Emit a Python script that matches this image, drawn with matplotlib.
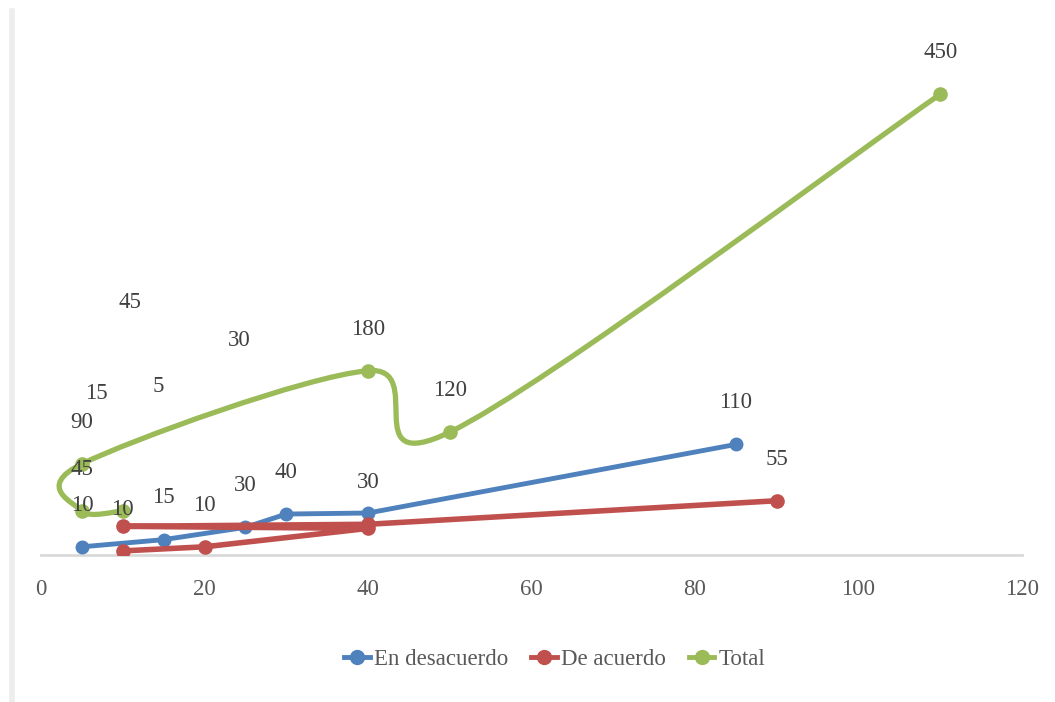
import numpy as np
import matplotlib
matplotlib.use('Agg')
import matplotlib.pyplot as plt
from matplotlib.path import Path
from matplotlib.patches import PathPatch
from matplotlib.lines import Line2D

plt.rcParams['font.family'] = ['Liberation Serif', 'DejaVu Serif']

# Datos (x, y de cada serie)
desacuerdo_x = [5, 15, 25, 30, 40, 85]
desacuerdo_y = [8, 15, 27, 40, 41, 108]
desacuerdo_etq = ['10', '15', '30', '40', '', '110']

acuerdo_x = [10, 20, 40, 10, 40, 90]
acuerdo_y = [4, 8, 26, 28, 30, 53]
acuerdo_etq = ['10', '10', '', '', '30', '55']

total_x = [10, 5, 5, 40, 50, 110]
total_y = [43, 43, 89, 180, 120, 450]
total_etq = ['', '45', '90', '180', '120', '450']

# etiquetas que quedaron sueltas en el grafico original
sueltas_txt = ['15', '5', '45', '30']
sueltas_x = [6.8, 14.3, 10.9, 24.3]
sueltas_y = [158, 165, 247, 209]

azul = '#4F81BD'
rojo = '#C0504D'
verde = '#9BBB59'
gris_txt = '#404040'


def curva_suave(ax, xs, ys):
    # curva tipo Excel (Catmull-Rom en pixeles convertida a Bezier cubica)
    p = ax.transData.transform(np.column_stack([xs, ys]))
    n = len(p)
    verts = [p[0]]
    codes = [Path.MOVETO]
    for i in range(n - 1):
        p0 = p[i - 1] if i > 0 else p[i]
        p1 = p[i]
        p2 = p[i + 1]
        p3 = p[i + 2] if i + 2 < n else p[i + 1]
        c1 = p1 + (p2 - p0) / 6
        c2 = p2 - (p3 - p1) / 6
        verts += [c1, c2, p2]
        codes += [Path.CURVE4] * 3
    verts = ax.transData.inverted().transform(np.array(verts))
    return Path(verts, codes)


fig = plt.figure(figsize=(10.55, 7.02), dpi=100)
ax = fig.add_axes([0.0389, 0.2094, 0.9298, 0.7293])
ax.set_xlim(0, 120)
ax.set_ylim(0, 500)

# series azul y roja (lineas casi rectas)
ax.plot(desacuerdo_x, desacuerdo_y, color=azul, lw=3.5, marker='o', ms=9,
        solid_joinstyle='round', zorder=3)
ax.plot(acuerdo_x, acuerdo_y, color=rojo, lw=4, marker='o', ms=9.5,
        solid_joinstyle='round', zorder=4)

# serie total suavizada
ax.add_patch(PathPatch(curva_suave(ax, total_x, total_y), facecolor='none',
                       edgecolor=verde, lw=3.8, zorder=3))
ax.plot(total_x, total_y, ls='none', marker='o', ms=9.5, color=verde, zorder=3)

# etiquetas de datos
for xs, ys, etqs in [(desacuerdo_x, desacuerdo_y, desacuerdo_etq),
                     (acuerdo_x, acuerdo_y, acuerdo_etq),
                     (total_x, total_y, total_etq)]:
    for x, y, t in zip(xs, ys, etqs):
        if t:
            ax.annotate(t, (x, y), xytext=(0, 30), textcoords='offset points',
                        ha='center', va='center', fontsize=16.5, color=gris_txt, zorder=5)

for t, x, y in zip(sueltas_txt, sueltas_x, sueltas_y):
    ax.text(x, y, t, ha='center', va='center', fontsize=16.5, color=gris_txt)

ax.set_xticks(range(0, 121, 20))
ax.set_yticks([])
for s in ['top', 'right', 'left']:
    ax.spines[s].set_visible(False)
ax.spines['bottom'].set_color('#d9d9d9')
ax.spines['bottom'].set_linewidth(2)
ax.tick_params(axis='x', length=0, pad=17, labelsize=16.5, labelcolor='#595959')

# leyenda abajo
handles = [Line2D([], [], color=c, lw=3.5, marker='o', ms=10) for c in [azul, rojo, verde]]
fig.legend(handles, ['En desacuerdo', 'De acuerdo', 'Total'], loc='center',
           bbox_to_anchor=(0.526, 0.06), ncol=3, frameon=False, fontsize=16.5,
           handlelength=1.1, handletextpad=0.2, columnspacing=1.0,
           labelcolor='#595959')

# borde izquierdo del area del grafico
fig.add_artist(Line2D([0.011, 0.011], [0, 0.985], color='#ededed', lw=4))

plt.savefig('out.png', dpi=100)
